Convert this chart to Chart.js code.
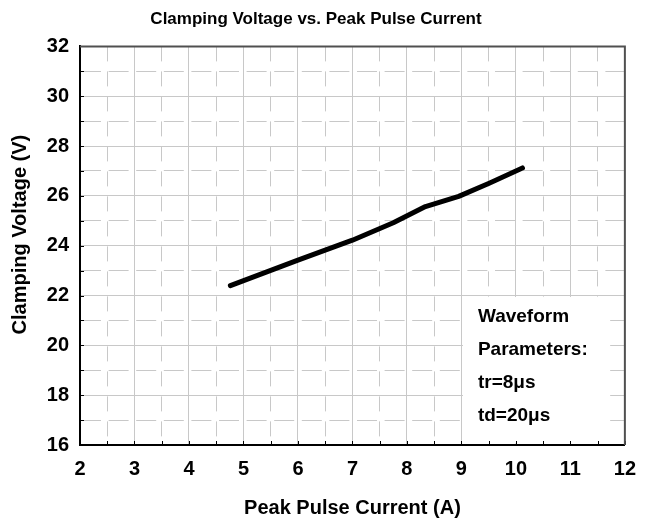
<!DOCTYPE html>
<html>
<head>
<meta charset="utf-8">
<title>Clamping Voltage vs. Peak Pulse Current</title>
<script src="https://cdn.jsdelivr.net/npm/chart.js@4/dist/chart.umd.min.js"></script>
<style>
    html, body { margin: 0; padding: 0; background: #fff; }
    #wrap { width: 648px; height: 527px; }
</style>
</head>
<body>
<div id="wrap"><canvas id="chart" width="648" height="527"></canvas></div>
<script>
// values
const peakCurrent = [4.76, 6.0, 7.0, 7.75, 8.34, 8.95, 9.52, 10.12];
const clampVoltage = [22.40, 23.42, 24.22, 24.92, 25.57, 25.98, 26.52, 27.12];

const xRange = [2, 12];
const yRange = [16, 32];
const noteLines = ['Waveform', 'Parameters:', 'tr=8\u03bcs', 'td=20\u03bcs'];

const FONT = '"Liberation Sans", Arial, sans-serif';
const GRID = '#c8c8c8';

// white note box, inner tick marks and the darker top/right frame
const extras = {
    id: 'extras',
    beforeDatasetsDraw(chart) {
        const { ctx, chartArea: a, scales: { x, y } } = chart;
        ctx.save();

        // note box
        const bx = x.getPixelForValue(9) + 1.5;
        const by = y.getPixelForValue(22) + 1.5;
        const bw = x.getPixelForValue(11.73) - bx;
        const bh = a.bottom - 1.5 - by;
        ctx.fillStyle = '#fff';
        ctx.fillRect(bx, by, bw, bh);

        ctx.fillStyle = '#000';
        ctx.font = 'bold 19px ' + FONT;
        ctx.textBaseline = 'middle';
        ctx.textAlign = 'left';
        noteLines.forEach((t, i) => ctx.fillText(t, bx + 15, by + 20 + i * 33));

        // inner ticks
        ctx.strokeStyle = '#000';
        ctx.lineWidth = 1;
        ctx.beginPath();
        x.ticks.forEach(t => {
            const px = Math.round(x.getPixelForValue(t.value)) + 0.5;
            ctx.moveTo(px, a.bottom);
            ctx.lineTo(px, a.bottom - 4);
        });
        y.ticks.forEach(t => {
            const py = Math.round(y.getPixelForValue(t.value)) + 0.5;
            ctx.moveTo(a.left, py);
            ctx.lineTo(a.left + 4, py);
        });
        ctx.stroke();

        // top / right frame
        ctx.strokeStyle = '#505050';
        ctx.lineWidth = 2;
        ctx.beginPath();
        ctx.moveTo(a.left, a.top);
        ctx.lineTo(a.right, a.top);
        ctx.lineTo(a.right, a.bottom);
        ctx.stroke();
        ctx.restore();
    }
};

const ctx = document.getElementById('chart').getContext('2d');
new Chart(ctx, {
    type: 'line',
    data: {
        datasets: [{
            data: peakCurrent.map((c, i) => ({ x: c, y: clampVoltage[i] })),
            borderColor: '#000',
            borderWidth: 5,
            borderCapStyle: 'round',
            borderJoinStyle: 'round',
            pointRadius: 0,
            tension: 0
        }]
    },
    options: {
        responsive: false,
        animation: false,
        layout: { padding: { left: 0, right: 16, top: 0, bottom: 0 } },
        plugins: {
            legend: { display: false },
            tooltip: { enabled: false },
            title: {
                display: true,
                text: 'Clamping Voltage vs. Peak Pulse Current',
                color: '#000',
                font: { family: FONT, size: 17, weight: 'bold' },
                padding: { top: 9, bottom: 17 }
            }
        },
        scales: {
            x: {
                type: 'linear',
                min: xRange[0],
                max: xRange[1],
                afterFit: (s) => { s.height = 82; },
                ticks: {
                    stepSize: 0.5,
                    autoSkip: false,
                    maxRotation: 0,
                    padding: 12,
                    color: '#000',
                    font: { family: FONT, size: 20, weight: 'bold' },
                    callback: (v) => Number.isInteger(v) ? String(v) : ''
                },
                grid: { color: GRID, lineWidth: 1, drawTicks: false },
                border: {
                    color: '#000',
                    width: 2,
                    dash: (c) => (c.tick && !Number.isInteger(c.tick.value)) ? [15, 10] : []
                },
                title: {
                    display: true,
                    text: 'Peak Pulse Current (A)',
                    color: '#000',
                    font: { family: FONT, size: 20, weight: 'bold' },
                    padding: { top: 0, bottom: 7 }
                }
            },
            y: {
                min: yRange[0],
                max: yRange[1],
                afterFit: (s) => { s.width = 80; },
                ticks: {
                    stepSize: 1,
                    autoSkip: false,
                    padding: 11,
                    color: '#000',
                    font: { family: FONT, size: 20, weight: 'bold' },
                    callback: (v) => v % 2 === 0 ? String(v) : ''
                },
                grid: { color: GRID, lineWidth: 1, drawTicks: false },
                border: {
                    color: '#000',
                    width: 2,
                    dash: (c) => (c.tick && c.tick.value % 2 !== 0) ? [20, 7.6] : []
                },
                title: {
                    display: true,
                    text: '    Clamping Voltage (V)',
                    color: '#000',
                    font: { family: FONT, size: 20, weight: 'bold' },
                    padding: { top: 8, bottom: 0 }
                }
            }
        }
    },
    plugins: [extras]
});
</script>
</body>
</html>
